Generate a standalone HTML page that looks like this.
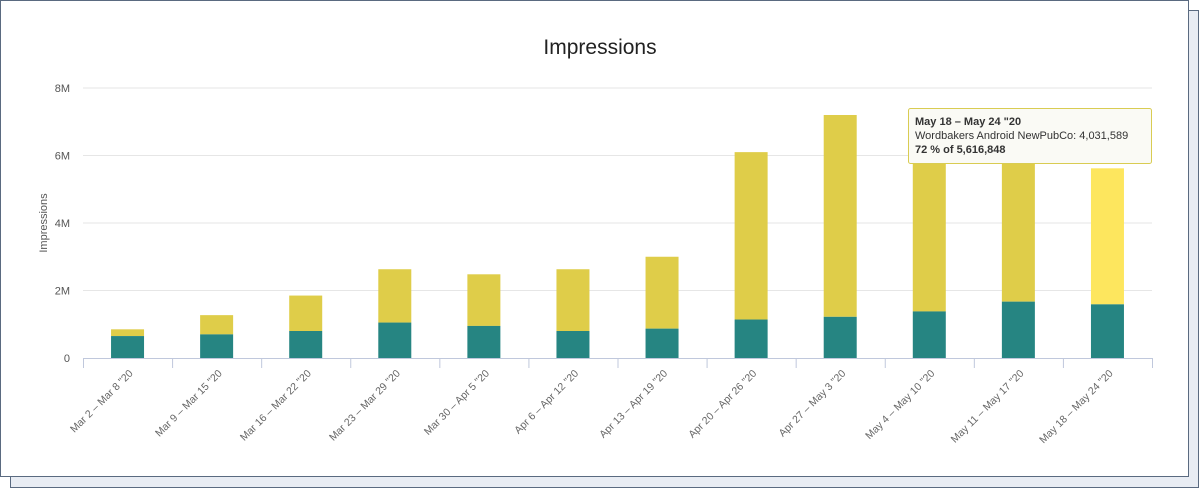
<!DOCTYPE html>
<html><head><meta charset="utf-8"><style>
body{margin:0;background:#fff;width:1200px;height:503px;overflow:hidden;font-family:"Liberation Sans",sans-serif}
svg{position:absolute;left:0;top:0}
</style></head><body>
<svg width="1200" height="503">
<rect x="10.5" y="10.5" width="1188" height="477" fill="#e8ecf3" stroke="#5a6a80"/>
<rect x="0.5" y="0.5" width="1188" height="476" fill="#fff" stroke="#5a6a80"/>
<text x="600" y="54" text-anchor="middle" font-size="21" fill="#222">Impressions</text>
<text transform="translate(47,223) rotate(-90)" text-anchor="middle" font-size="11" fill="#555">Impressions</text>
<g id="grid"></g><g id="bars"></g><g id="xaxis"></g>
<g>
<rect x="908.5" y="108.5" width="243" height="55" fill="#fafaf5" stroke="#d9cc52" rx="2"/>
<text x="915" y="125" font-size="11" font-weight="bold" fill="#333">May 18 – May 24 "20</text>
<text x="915" y="139" font-size="11" fill="#333">Wordbakers Android NewPubCo: 4,031,589</text>
<text x="915" y="153" font-size="11" font-weight="bold" fill="#333">72 % of 5,616,848</text>
</g>
</svg>
<script>
const categories=["Mar 2 – Mar 8 \"20","Mar 9 – Mar 15 \"20","Mar 16 – Mar 22 \"20","Mar 23 – Mar 29 \"20","Mar 30 – Apr 5 \"20","Apr 6 – Apr 12 \"20","Apr 13 – Apr 19 \"20","Apr 20 – Apr 26 \"20","Apr 27 – May 3 \"20","May 4 – May 10 \"20","May 11 – May 17 \"20","May 18 – May 24 \"20"];
const tealValues=[0.65,0.70,0.80,1.05,0.95,0.80,0.87,1.14,1.22,1.38,1.67,1.59];
const yellowValues=[0.20,0.57,1.05,1.58,1.53,1.83,2.13,4.96,5.98,4.82,4.73,4.03];
const yTicks=[0,2,4,6,8];
const yTickLabels=["0","2M","4M","6M","8M"];
const NS="http://www.w3.org/2000/svg";
const x0=83,x1=1152,yBase=358,yTop=88,maxV=8;
const band=(x1-x0)/categories.length;
const y=v=>yBase-(v/maxV)*(yBase-yTop);
const xc=i=>x0+band*(i+0.5);
function mk(t,a,p){const e=document.createElementNS(NS,t);for(const k in a)e.setAttribute(k,a[k]);p.appendChild(e);return e;}
const grid=document.getElementById('grid'),bars=document.getElementById('bars'),xa=document.getElementById('xaxis');
yTicks.forEach((v,i)=>{
 if(v>0){const l=mk('line',{x1:x0,x2:x1,y1:y(v),y2:y(v),stroke:'#e6e6e6'},grid);
 
 }
 const t=mk('text',{x:70,y:y(v)+4,'text-anchor':'end','font-size':11,fill:'#555'},grid);t.textContent=yTickLabels[i];
 
 
});
mk('line',{x1:x0,x2:x1,y1:yBase+0.5,y2:yBase+0.5,stroke:'#c0c8dc'},xa);
categories.forEach((c,i)=>{
 const bw=33,cx=xc(i),last=i===categories.length-1;
 const ty=y(tealValues[i]),tt=y(tealValues[i]+yellowValues[i]);
 const r1=mk('rect',{x:cx-bw/2,y:tt,width:bw,height:ty-tt,fill:last?'#fde65e':'#dfcd49'},bars);
 
 
 const r2=mk('rect',{x:cx-bw/2,y:ty,width:bw,height:yBase-ty,fill:'#268582'},bars);
 
 
 const tx=x0+band*i;
 mk('line',{x1:tx+0.5,x2:tx+0.5,y1:yBase,y2:yBase+10,stroke:'#c0c8dc'},xa);
 const t=mk('text',{transform:`translate(${cx+6},${yBase+16}) rotate(-45)`,'text-anchor':'end','font-size':10.5,fill:'#666'},xa);
 t.textContent=c;
 
 
});
mk('line',{x1:x1+0.5,x2:x1+0.5,y1:yBase,y2:yBase+10,stroke:'#c0c8dc'},xa);
</script>
</body></html>
